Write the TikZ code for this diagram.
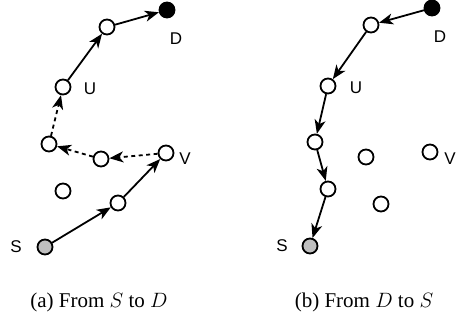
\documentclass[tikz,border=0pt]{standalone}
\usepackage{fontspec}
\setmainfont{Liberation Serif}
\setsansfont{Liberation Sans}
\usetikzlibrary{arrows.meta}

\begin{document}
\begin{tikzpicture}[x=1pt,y=-1pt,>={Stealth[length=14pt,width=11pt,inset=4pt]},line width=1.8pt,
        host/.style={draw,circle,minimum size=15pt,inner sep=0pt,fill=white},
        lbl/.style={font=\sffamily\fontsize{17}{19}\selectfont,inner sep=0pt},
        capt/.style={font=\fontsize{21}{23}\selectfont,inner sep=0pt},
        hop/.style={->},
        probe/.style={->,dash pattern=on 4pt off 3.5pt}]
        \useasboundingbox (0,0) rectangle (456,328);
        % (a) from S to D
        \node[host,fill=gray!50] (sa) at (45,247) {};
        \node[host] (ea) at (118,203) {};
        \node[host] (va) at (166,153) {};
        \node[host] (ba) at (101,159) {};
        \node[host] (aa) at (49,144) {};
        \node[host] (ua) at (63,87) {};
        \node[host] (ta) at (107,27) {};
        \node[host,fill=black] (da) at (167,10) {};
        \node[host] (ca) at (63,191) {};
        \node[lbl] (sla) at (16,247) {S};
        \node[lbl] (ula) at (90,89) {U};
        \node[lbl] (vla) at (185,159) {V};
        \node[lbl] (dla) at (176,39) {D};
        \draw[hop] (sa) -- (ea);
        \draw[hop] (ea) -- (va);
        \draw[probe] (va) -- (ba);
        \draw[probe] (ba) -- (aa);
        \draw[probe] (aa) -- (ua);
        \draw[hop] (ua) -- (ta);
        \draw[hop] (ta) -- (da);
        % (b) from D to S
        \node[host,fill=black] (db) at (432,8) {};
        \node[host] (tb) at (371,25) {};
        \node[host] (ub) at (328,86) {};
        \node[host] (mb) at (315,142) {};
        \node[host] (nb) at (328,189) {};
        \node[host,fill=gray!50] (sb) at (310,246) {};
        \node[host] (pb) at (366,157) {};
        \node[host] (vb) at (430,152) {};
        \node[host] (qb) at (381,204) {};
        \node[lbl] (slb) at (282,246) {S};
        \node[lbl] (ulb) at (356,88) {U};
        \node[lbl] (vlb) at (450,159) {V};
        \node[lbl] (dlb) at (440,37) {D};
        \draw[hop] (db) -- (tb);
        \draw[hop] (tb) -- (ub);
        \draw[hop] (ub) -- (mb);
        \draw[hop] (mb) -- (nb);
        \draw[hop] (nb) -- (sb);
        % captions
        \node[capt] (capa) at (99,302) {(a) From $S$ to $D$};
        \node[capt] (capb) at (364,302) {(b) From $D$ to $S$};
\end{tikzpicture}
\end{document}
